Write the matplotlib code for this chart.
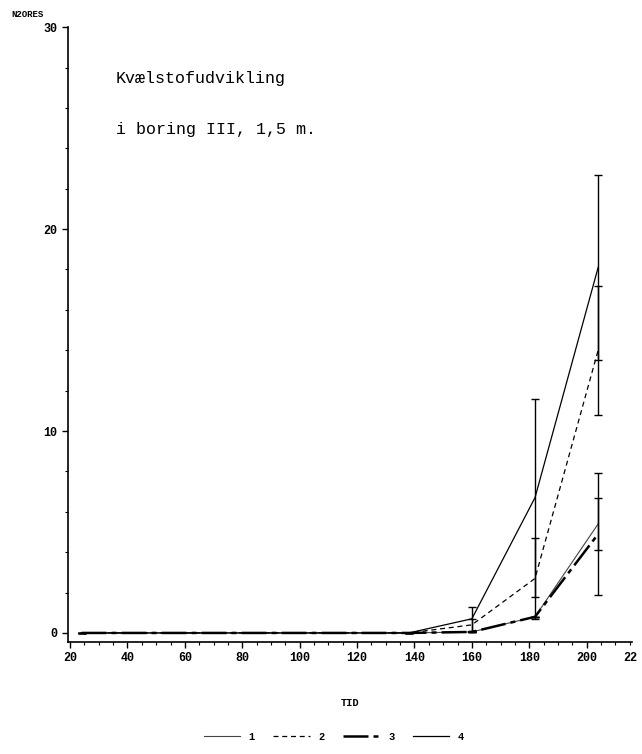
import matplotlib
matplotlib.use("Agg")
import matplotlib.pyplot as plt
from matplotlib.lines import Line2D
from matplotlib.ticker import MultipleLocator

plt.rcParams["font.family"] = ["Liberation Mono", "DejaVu Sans Mono"]

# data
tid = [24, 138, 160, 182, 204]
n2o_1 = [0.0, 0.0, 0.05, 0.8, 5.4]
n2o_2 = [0.0, 0.0, 0.4, 2.7, 14.0]
n2o_3 = [0.0, 0.0, 0.05, 0.8, 4.9]
n2o_4 = [0.0, 0.0, 0.7, 6.7, 18.1]
err_1 = [0, 0, 0, 0, 1.3]
err_2 = [0, 0, 0.3, 2.0, 3.2]
err_3 = [0, 0, 0, 0, 3.0]
err_4 = [0, 0, 0.6, 4.9, 4.6]
series_names = ["1", "2", "3", "4"]

fig = plt.figure(figsize=(6.42, 7.54), dpi=100)
ax = fig.add_axes([0.106, 0.1485, 0.878, 0.8155])

styles = [
    dict(color="#444444", linestyle="-", linewidth=0.8),
    dict(color="black", linestyle=(0, (4, 3)), linewidth=0.9),
    dict(color="black", linestyle=(0, (10, 2, 2, 2)), linewidth=1.8),
    dict(color="black", linestyle="-", linewidth=0.9),
]
values = [n2o_1, n2o_2, n2o_3, n2o_4]
errors = [err_1, err_2, err_3, err_4]

for y, e, st in zip(values, errors, styles):
    ax.plot(tid, y, **st)
    ax.errorbar(tid, y, yerr=e, fmt="none", ecolor="black",
                elinewidth=1.0, capsize=3, capthick=1.0)

ax.set_xlim(19.3, 215.7)
ax.set_ylim(-0.45, 30)
ax.set_xticks(range(20, 201, 20))
ax.set_yticks([0, 10, 20, 30])
ax.xaxis.set_minor_locator(MultipleLocator(5))
ax.yaxis.set_minor_locator(MultipleLocator(2))
ax.tick_params(which="major", direction="out", length=4, width=1,
               labelsize=8.5)
ax.tick_params(which="minor", direction="out", length=2, width=0.8)
for lab in ax.get_xticklabels() + ax.get_yticklabels():
    lab.set_fontweight("bold")
ax.spines[["top", "right"]].set_visible(False)
ax.spines["left"].set_linewidth(1.2)
ax.spines["bottom"].set_linewidth(1.2)

# the partly visible "22" at the right edge (220 cut off in the scan)
ax.annotate("22", xy=(212.9, 0), xycoords=("data", "axes fraction"),
            xytext=(0, -7.5), textcoords="offset points",
            ha="left", va="top", fontsize=8.5, fontweight="bold",
            annotation_clip=False)

fig.text(0.018, 0.981, "N2ORES", fontsize=6.5, fontweight="bold",
         ha="left", va="center")
ax.set_xlabel("TID", fontsize=7.5, fontweight="bold", labelpad=24)

ax.text(0.085, 0.917, "Kvælstofudvikling", transform=ax.transAxes,
        fontsize=12, ha="left", va="center")
ax.text(0.085, 0.834, "i boring III, 1,5 m.", transform=ax.transAxes,
        fontsize=12, ha="left", va="center")

handles = [Line2D([0], [0], **st) for st in styles]
fig.legend(handles, series_names, loc="center", bbox_to_anchor=(0.52, 0.023),
           ncol=4, frameon=False, handlelength=3.5, columnspacing=1.8,
           prop={"size": 7.5, "weight": "bold"})

fig.savefig("out.png", dpi=100, facecolor="white")
